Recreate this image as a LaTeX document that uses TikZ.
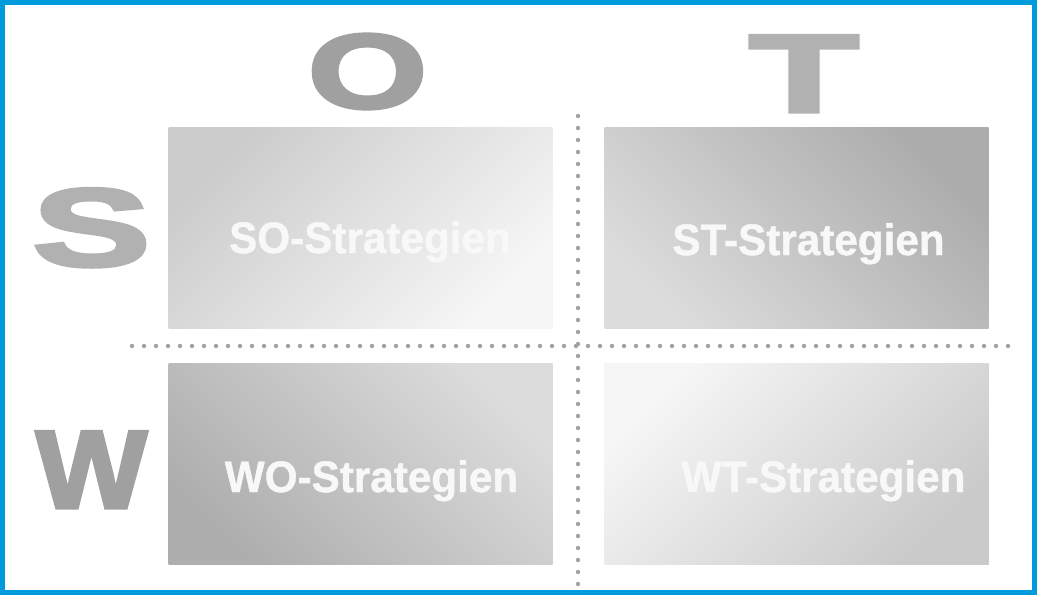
\documentclass[tikz,border=0pt]{standalone}
\usepackage{fontspec}
\setmainfont{Liberation Sans}
\newfontfamily\heavyfont{Liberation Sans Bold}[FakeBold=3]
\newfontfamily\captionfont{Liberation Sans Bold}[FakeBold=1]
\usetikzlibrary{positioning}
\definecolor{frameblue}{RGB}{0,155,220}
\definecolor{dotgray}{RGB}{163,163,163}
\definecolor{capwhite}{RGB}{248,248,248}
\definecolor{darkletter}{RGB}{160,160,160}
\definecolor{lightletter}{RGB}{177,177,177}

\begin{document}
\begin{tikzpicture}[x=1pt, y=-1pt]
    \tikzset{
        field/.style={inner sep=0, minimum width=384, minimum height=201},
        caption/.style={anchor=base, inner sep=0, text=capwhite, font=\fontsize{44}{44}\selectfont\captionfont},
        letter/.style={anchor=base, inner sep=0, font=\fontsize{111}{111}\selectfont\heavyfont},
        dots/.style={dotgray, line width=4.5, line cap=round, dash pattern=on 0pt off 12pt}
    }
    \useasboundingbox (0,0) rectangle (1037,595);

    \node [field, top color={rgb,255:red,204;green,204;blue,204}, bottom color={rgb,255:red,246;green,246;blue,246}, shading angle=45] (so) at (360.5,228) {};
    \node [field, top color={rgb,255:red,172;green,172;blue,172}, bottom color={rgb,255:red,220;green,220;blue,220}, shading angle=-45] (st) at (796.5,228) {};
    \node [field, top color={rgb,255:red,220;green,220;blue,220}, bottom color={rgb,255:red,174;green,174;blue,174}, shading angle=-45] (wo) at (360.5,463.5) {};
    \node [field, top color={rgb,255:red,246;green,246;blue,246}, bottom color={rgb,255:red,202;green,202;blue,202}, shading angle=45] (wt) at (796.5,463.5) {};

    \node [caption] (sotext) at (370,253) {\scalebox{0.96}[1]{SO-Strategien}};
    \node [caption] (sttext) at (808.5,255) {\scalebox{0.96}[1]{ST-Strategien}};
    \node [caption] (wotext) at (371.5,492) {\scalebox{0.96}[1]{WO-Strategien}};
    \node [caption] (wttext) at (823.5,492) {\scalebox{0.96}[1]{WT-Strategien}};

    \node [letter, text=darkletter, font=\fontsize{106}{106}\selectfont\heavyfont] (o) at (367.5,108) {\scalebox{1.45}[1]{O}};
    \node [letter, text=lightletter] (t) at (804,112) {\scalebox{1.62}[1]{T}};
    \node [letter, text=lightletter] (s) at (91.5,266) {\scalebox{1.6}[1]{S}};
    \node [letter, text=darkletter] (w) at (91.5,508) {\scalebox{1.06}[1]{W}};

    % dividers
    \coordinate (vtop) at (578,116);
    \coordinate (vbot) at (578,588);
    \coordinate (hleft) at (132,346);
    \coordinate (hright) at (1010,346);
    \draw [dots] (vtop) -- (vbot);
    \draw [dots] (hleft) -- (hright);

    \draw [frameblue, line width=5] (2.5,2.5) rectangle (1034.5,592.5);
\end{tikzpicture}
\end{document}
